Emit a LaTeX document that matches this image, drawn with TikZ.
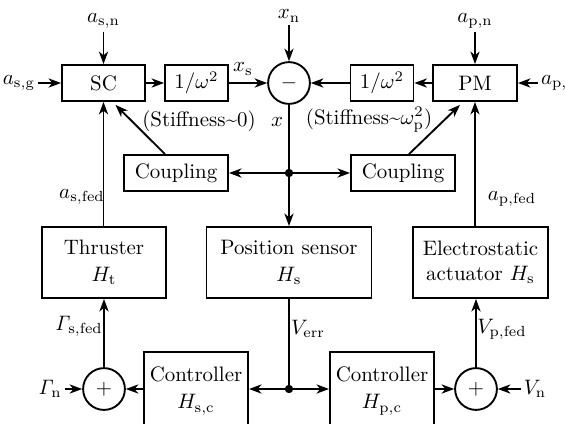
\documentclass[tikz,border=0pt]{standalone}
\usetikzlibrary{arrows.meta,calc}
\begin{document}
\begin{tikzpicture}[x=0.4785pt,y=-0.4785pt,
  line width=0.9pt,
  arr/.style={-{Stealth[length=6pt,width=4.4pt,inset=1.8pt]}},
  box/.style={draw,rectangle,inner sep=0pt,minimum height=17.2pt,align=center},
  bigbox/.style={draw,rectangle,inner sep=0pt,minimum height=34pt,align=center},
  ctrlbox/.style={draw,rectangle,inner sep=0pt,minimum width=49.8pt,minimum height=37.3pt,align=center},
  sumnode/.style={draw,circle,inner sep=0pt,minimum size=20pt},
  lbl/.style={inner sep=1pt},
  dot/.style={fill,circle,inner sep=0pt,minimum size=4pt}]
\useasboundingbox (0,0) rectangle (565,423);
% top row
\node[box,minimum width=39.7pt] (sc) at (103.5,83) {SC};
\node[box,minimum width=30.1pt] (w1) at (196.5,83) {$1/\omega^2$};
\node[sumnode] (mn) at (289,83) {$-$};
\node[box,minimum width=30.1pt] (w2) at (382,83) {$1/\omega^2$};
\node[box,minimum width=40.2pt] (pm) at (475,83) {PM};
% couplings
\node[box,minimum width=49.8pt] (cl) at (176,173) {Coupling};
\node[box,minimum width=49.8pt] (cr) at (403,173) {Coupling};
\node[dot] (j1) at (289,173) {};
% middle row
\node[bigbox,minimum width=59.3pt] (th) at (104,262.5) {Thruster\\[1pt]$H_\mathrm{t}$};
\node[bigbox,minimum width=79pt] (ps) at (289,262.5) {Position sensor\\[1pt]$H_\mathrm{s}$};
\node[bigbox,minimum width=64.6pt] (ea) at (480.5,262.5) {Electrostatic\\actuator $H_\mathrm{s}$};
% bottom row
\node[sumnode] (pl) at (104,389) {$+$};
\node[ctrlbox] (csl) at (196,391) {Controller\\[1pt]$H_{\mathrm{s,c}}$};
\node[dot] (j2) at (289,389) {};
\node[ctrlbox] (cpl) at (382,391) {Controller\\[1pt]$H_{\mathrm{p,c}}$};
\node[sumnode] (pr) at (476,389) {$+$};
% input labels
\node[lbl] (asn) at (103.5,21) {$a_{\mathrm{s,n}}$};
\node[lbl] (xn) at (289,16) {$x_{\mathrm{n}}$};
\node[lbl] (apn) at (475,21) {$a_{\mathrm{p,n}}$};
\node[lbl] (asg) at (19,83) {$a_{\mathrm{s,g}}$};
\node[lbl,anchor=west] (apg) at (538,83) {$a_{\mathrm{p,g}}$};
\node[lbl] (gn) at (50,389) {$\mathit{\Gamma}_{\mathrm{n}}$};
\node[lbl] (vn) at (535,389) {$V_{\mathrm{n}}$};
% other labels
\node[lbl] at (243,69) {$x_{\mathrm{s}}$};
\node[lbl] at (277,122) {$x$};
\node[lbl] at (199,121) {(Stiffness\textasciitilde0)};
\node[lbl] at (369,120) {(Stiffness\textasciitilde$\omega_{\mathrm{p}}^2$)};
\node[lbl] at (82,197) {$a_{\mathrm{s,fed}}$};
\node[lbl] at (512,199) {$a_{\mathrm{p,fed}}$};
\node[lbl] at (79,326) {$\mathit{\Gamma}_{\mathrm{s,fed}}$};
\node[lbl] at (308,329) {$V_{\mathrm{err}}$};
\node[lbl] at (502,329) {$V_{\mathrm{p,fed}}$};
% connectors top
\draw[arr] (asn.south -| sc.north) -- (sc.north);
\draw[arr] (xn.south -| mn.north) -- (mn.north);
\draw[arr] (apn.south -| pm.north) -- (pm.north);
\draw[arr] (asg.east) -- (sc.west);
\draw[arr] (apg.west) -- (pm.east);
\draw[arr] (sc.east) -- (w1.west);
\draw[arr] (w1.east) -- (mn.west);
\draw[arr] (pm.west) -- (w2.east);
\draw[arr] (w2.west) -- (mn.east);
% x path
\draw (mn.south) -- (j1.center);
\draw[arr] (j1.center) -- (ps.north);
\draw[arr] (j1.center) -- (cl.east);
\draw[arr] (j1.center) -- (cr.west);
\draw[arr] ($(cl.north)+(-11,0)$) -- ($(sc.south)+(12,3)$);
\draw[arr] ($(cr.north)+(6,0)$) -- ($(pm.south)+(-15,3)$);
% feedback
\draw[arr] (th.north -| sc.south) -- (sc.south);
\draw[arr] (pm.south |- ea.north) -- (pm.south);
\draw[arr] (pl.north) -- (pl.north |- th.south);
\draw[arr] (pr.north) -- (pr.north |- ea.south);
% bottom
\draw (ps.south) -- (j2.center);
\draw[arr] (j2.center) -- (j2.center -| csl.east);
\draw[arr] (j2.center) -- (j2.center -| cpl.west);
\draw[arr] (csl.west |- pl.east) -- (pl.east);
\draw[arr] (cpl.east |- pr.west) -- (pr.west);
\draw[arr] (gn.east) -- (pl.west);
\draw[arr] (vn.west) -- (pr.east);
\end{tikzpicture}
\end{document}
